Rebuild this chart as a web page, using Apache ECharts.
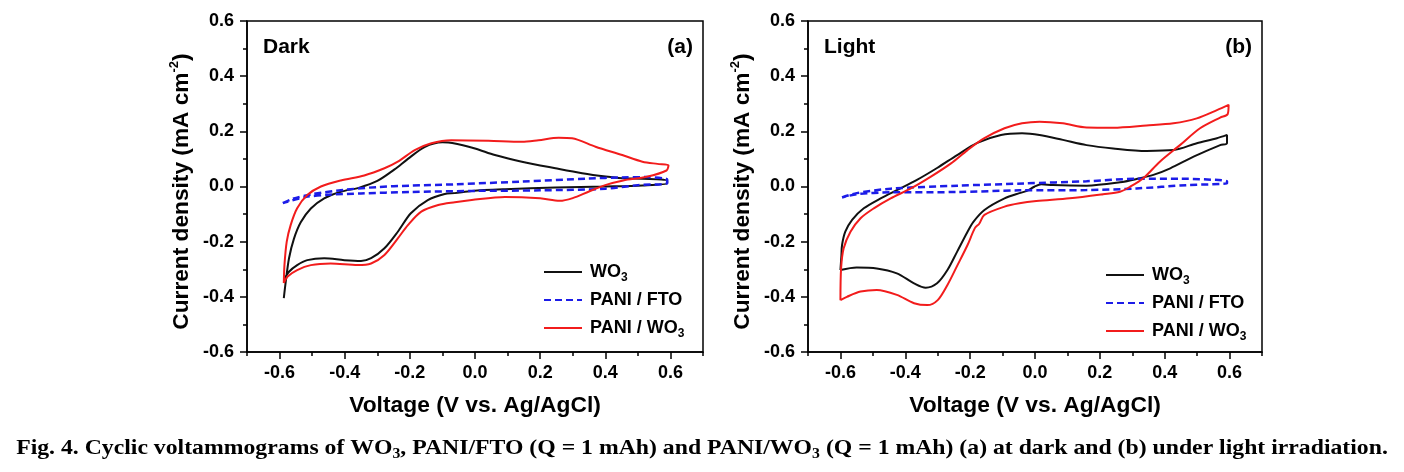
<!DOCTYPE html>
<html>
<head>
<meta charset="utf-8">
<script src="https://cdn.jsdelivr.net/npm/echarts@6/dist/echarts.min.js"></script>
<style>
  html, body { margin: 0; padding: 0; background: #fff; }
  #chart { width: 1404px; height: 472px; }
</style>
</head>
<body>
<div id="chart"></div>
<script>
// tick positions
var xTicks = [-0.6, -0.4, -0.2, 0.0, 0.2, 0.4, 0.6];
var xMinorTicks = [-0.7, -0.5, -0.3, -0.1, 0.1, 0.3, 0.5, 0.7];

// (a) dark -- [voltage, current density]
var wo3Dark = [
  [-0.587, -0.405], [-0.581, -0.345], [-0.571, -0.26], [-0.556, -0.19], [-0.535, -0.13],
  [-0.504, -0.08], [-0.463, -0.043], [-0.412, -0.019], [-0.355, -0.004], [-0.3, 0.02],
  [-0.247, 0.062], [-0.206, 0.1], [-0.155, 0.143], [-0.1, 0.16], [-0.07, 0.158],
  [0.0, 0.138], [0.061, 0.114], [0.144, 0.09], [0.247, 0.066], [0.329, 0.048],
  [0.401, 0.036], [0.452, 0.03], [0.514, 0.028], [0.59, 0.022], [0.59, 0.012],
  [0.514, 0.004], [0.401, 0.0], [0.247, -0.004], [0.092, -0.01], [-0.01, -0.016],
  [-0.062, -0.024], [-0.093, -0.027], [-0.145, -0.049], [-0.197, -0.097], [-0.237, -0.164],
  [-0.278, -0.224], [-0.319, -0.26], [-0.35, -0.27], [-0.401, -0.267], [-0.463, -0.26],
  [-0.515, -0.267], [-0.546, -0.285], [-0.571, -0.309], [-0.587, -0.339]
];
var paniFtoDark = [
  [-0.59, -0.06], [-0.56, -0.045], [-0.5, -0.028], [-0.4, -0.012], [-0.3, -0.002],
  [-0.2, 0.003], [-0.06, 0.008], [0.144, 0.018], [0.35, 0.029], [0.45, 0.033],
  [0.524, 0.034], [0.59, 0.025], [0.59, 0.012], [0.5, 0.005], [0.4, -0.008],
  [0.2, -0.014], [0.0, -0.016], [-0.2, -0.02], [-0.35, -0.025], [-0.45, -0.03],
  [-0.52, -0.038], [-0.59, -0.06]
];
var paniWo3Dark = [
  [-0.587, -0.35], [-0.585, -0.285], [-0.578, -0.2], [-0.566, -0.14], [-0.546, -0.079],
  [-0.515, -0.031], [-0.473, 0.0], [-0.412, 0.022], [-0.34, 0.04], [-0.278, 0.066],
  [-0.237, 0.09], [-0.185, 0.132], [-0.134, 0.157], [-0.073, 0.168], [0.041, 0.166],
  [0.144, 0.162], [0.195, 0.168], [0.257, 0.177], [0.298, 0.175], [0.37, 0.144],
  [0.452, 0.114], [0.514, 0.09], [0.56, 0.082], [0.594, 0.077], [0.588, 0.058],
  [0.527, 0.035], [0.455, 0.022], [0.4, 0.005], [0.35, -0.018], [0.3, -0.042],
  [0.26, -0.052], [0.2, -0.043], [0.092, -0.038], [-0.01, -0.049], [-0.062, -0.057],
  [-0.113, -0.067], [-0.165, -0.091], [-0.206, -0.14], [-0.237, -0.188], [-0.278, -0.248],
  [-0.319, -0.279], [-0.36, -0.285], [-0.443, -0.279], [-0.504, -0.285], [-0.546, -0.303],
  [-0.576, -0.327], [-0.587, -0.35]
];

// (b) light
var wo3Light = [
  [-0.6, -0.303], [-0.597, -0.25], [-0.595, -0.212], [-0.585, -0.164], [-0.564, -0.121],
  [-0.528, -0.079], [-0.476, -0.043], [-0.426, -0.013], [-0.364, 0.024], [-0.302, 0.067],
  [-0.24, 0.114], [-0.178, 0.158], [-0.105, 0.187], [-0.04, 0.193], [0.014, 0.187],
  [0.086, 0.169], [0.159, 0.15], [0.241, 0.138], [0.344, 0.129], [0.427, 0.132],
  [0.499, 0.157], [0.561, 0.175], [0.592, 0.187], [0.592, 0.157], [0.571, 0.15],
  [0.489, 0.108], [0.417, 0.066], [0.365, 0.042], [0.313, 0.027], [0.262, 0.015],
  [0.159, 0.003], [0.055, 0.005], [0.019, 0.008], [-0.002, -0.001], [-0.027, -0.017],
  [-0.048, -0.024], [-0.094, -0.043], [-0.156, -0.085], [-0.19, -0.128], [-0.208, -0.164],
  [-0.24, -0.236], [-0.27, -0.303], [-0.302, -0.351], [-0.337, -0.367], [-0.373, -0.351],
  [-0.426, -0.315], [-0.488, -0.297], [-0.55, -0.294], [-0.6, -0.303]
];
var paniFtoLight = [
  [-0.595, -0.04], [-0.55, -0.024], [-0.445, -0.008], [-0.239, 0.003], [-0.033, 0.011],
  [0.159, 0.019], [0.313, 0.028], [0.45, 0.028], [0.592, 0.019], [0.592, 0.012],
  [0.468, 0.005], [0.313, -0.007], [0.159, -0.013], [-0.048, -0.014], [-0.239, -0.02],
  [-0.445, -0.021], [-0.55, -0.028], [-0.595, -0.04]
];
var paniWo3Light = [
  [-0.6, -0.412], [-0.598, -0.297], [-0.59, -0.224], [-0.569, -0.164], [-0.538, -0.115],
  [-0.497, -0.079], [-0.445, -0.043], [-0.383, -0.007], [-0.321, 0.036], [-0.259, 0.084],
  [-0.208, 0.132], [-0.156, 0.175], [-0.094, 0.211], [-0.04, 0.229], [0.014, 0.235],
  [0.086, 0.229], [0.159, 0.214], [0.241, 0.213], [0.344, 0.221], [0.427, 0.229],
  [0.499, 0.247], [0.561, 0.277], [0.597, 0.296], [0.594, 0.262], [0.571, 0.25],
  [0.509, 0.211], [0.447, 0.15], [0.385, 0.09], [0.334, 0.03], [0.293, -0.001],
  [0.262, -0.019], [0.21, -0.028], [0.107, -0.043], [0.004, -0.053], [-0.048, -0.061],
  [-0.094, -0.073], [-0.156, -0.103], [-0.172, -0.135], [-0.185, -0.15], [-0.208, -0.212],
  [-0.239, -0.285], [-0.27, -0.357], [-0.3, -0.412], [-0.332, -0.43], [-0.373, -0.423],
  [-0.426, -0.393], [-0.488, -0.375], [-0.538, -0.381], [-0.58, -0.4], [-0.6, -0.412]
];

var seriesNames = ['WO3', 'PANI / FTO', 'PANI / WO3'];

var chart = echarts.init(document.getElementById('chart'));

var font = 'Liberation Sans';
var axisColor = '#000';
var lineW = 1.5;

function fmt(v) {
  return (Math.abs(v) < 1e-9 ? 0 : v).toFixed(1);
}

function xAxes(gi) {
  return [
    {
      type: 'value', gridIndex: gi, min: -0.7, max: 0.7, position: 'bottom',
      axisLine: { onZero: false, lineStyle: { color: axisColor, width: lineW } },
      axisTick: { customValues: xTicks, length: 7, lineStyle: { color: axisColor, width: lineW } },
      axisLabel: {
        customValues: xTicks, formatter: fmt, margin: 12,
        color: '#000', fontSize: 18, fontWeight: 'bold', fontFamily: font
      },
      splitLine: { show: false },
      name: 'Voltage (V vs. Ag/AgCl)', nameLocation: 'middle', nameGap: 42,
      nameTextStyle: { color: '#000', fontSize: 22.8, fontWeight: 'bold', fontFamily: font }
    },
    {
      // short ticks between the labelled ones
      type: 'value', gridIndex: gi, min: -0.7, max: 0.7, position: 'bottom',
      axisLine: { show: false, onZero: false },
      axisTick: { customValues: xMinorTicks, length: 4, lineStyle: { color: axisColor, width: lineW } },
      axisLabel: { show: false },
      splitLine: { show: false }
    }
  ];
}

function yAxis(gi) {
  return {
    type: 'value', gridIndex: gi, min: -0.6, max: 0.6, interval: 0.2,
    axisLine: { show: true, onZero: false, lineStyle: { color: axisColor, width: lineW } },
    axisTick: { show: true, length: 7, lineStyle: { color: axisColor, width: lineW } },
    minorTick: { show: true, splitNumber: 2, length: 4, lineStyle: { color: axisColor, width: lineW } },
    axisLabel: { formatter: fmt, margin: 13, color: '#000', fontSize: 18, fontWeight: 'bold', fontFamily: font },
    splitLine: { show: false },
    name: 'Current density (mA cm{sup|-2})', nameLocation: 'middle', nameGap: 51, nameRotate: 90,
    nameTextStyle: {
      color: '#000', fontSize: 22.7, fontWeight: 'bold', fontFamily: font, lineHeight: 28,
      padding: [0, 10, 0, 0],
      rich: { sup: { fontSize: 13, fontWeight: 'bold', fontFamily: font, color: '#000', verticalAlign: 'top' } }
    }
  };
}

function legend(gi, left, top) {
  return {
    data: seriesNames, orient: 'vertical', left: left, top: top, padding: 0,
    itemWidth: 38, itemHeight: 14, itemGap: 4, selectedMode: false,
    itemStyle: { opacity: 0 },
    formatter: function (name) { return name.replace('WO3', 'WO{sub|3}'); },
    textStyle: {
      color: '#000', fontSize: 18, fontWeight: 'bold', fontFamily: font, lineHeight: 24,
      padding: [0, 0, 0, 3],
      rich: { sub: { fontSize: 12, fontWeight: 'bold', fontFamily: font, color: '#000', verticalAlign: 'bottom' } }
    }
  };
}

function cv(name, data, gi, color, type, width) {
  return {
    name: name, type: 'line', data: data,
    xAxisIndex: gi * 2, yAxisIndex: gi,
    symbol: 'none', smooth: 0.3,
    lineStyle: { color: color, width: width, type: type },
    itemStyle: { color: color },
    z: 3
  };
}

var black = '#111111', blue = '#1c1ce8', red = '#f21c1c';

var labelStyle = { fontSize: 21, fontWeight: 'bold', fontFamily: font, fill: '#000', textVerticalAlign: 'middle' };

var option = {
  animation: false,
  backgroundColor: '#fff',
  grid: [
    { left: 247, top: 21, width: 456, height: 331, show: true, borderColor: '#000', borderWidth: lineW, backgroundColor: 'transparent' },
    { left: 808, top: 21, width: 454, height: 331, show: true, borderColor: '#000', borderWidth: lineW, backgroundColor: 'transparent' }
  ],
  xAxis: xAxes(0).concat(xAxes(1)),
  yAxis: [yAxis(0), yAxis(1)],
  legend: [legend(0, 543, 260), legend(1, 1105, 263)],
  series: [
    cv('WO3', wo3Dark, 0, black, 'solid', 2),
    cv('PANI / FTO', paniFtoDark, 0, blue, [7, 4], 2.5),
    cv('PANI / WO3', paniWo3Dark, 0, red, 'solid', 2),
    cv('WO3', wo3Light, 1, black, 'solid', 2),
    cv('PANI / FTO', paniFtoLight, 1, blue, [7, 4], 2.5),
    cv('PANI / WO3', paniWo3Light, 1, red, 'solid', 2)
  ],
  graphic: [
    { type: 'text', x: 263, y: 47, style: Object.assign({ text: 'Dark', textAlign: 'left' }, labelStyle) },
    { type: 'text', x: 693, y: 47, style: Object.assign({ text: '(a)', textAlign: 'right' }, labelStyle) },
    { type: 'text', x: 824, y: 47, style: Object.assign({ text: 'Light', textAlign: 'left' }, labelStyle) },
    { type: 'text', x: 1252, y: 47, style: Object.assign({ text: '(b)', textAlign: 'right' }, labelStyle) },
    {
      type: 'text', x: 702, y: 449, scaleX: 1.13,
      style: {
        text: 'Fig. 4. Cyclic voltammograms of WO{sub|3}, PANI/FTO (Q = 1 mAh) and PANI/WO{sub|3} (Q = 1 mAh) (a) at dark and (b) under light irradiation.',
        fontSize: 21, fontWeight: 'bold', fontFamily: 'Liberation Serif', fill: '#000',
        textAlign: 'center', textVerticalAlign: 'middle', lineHeight: 24,
        rich: { sub: { fontSize: 14, fontWeight: 'bold', fontFamily: 'Liberation Serif', fill: '#000', verticalAlign: 'bottom' } }
      }
    }
  ]
};

chart.setOption(option);
</script>
</body>
</html>
